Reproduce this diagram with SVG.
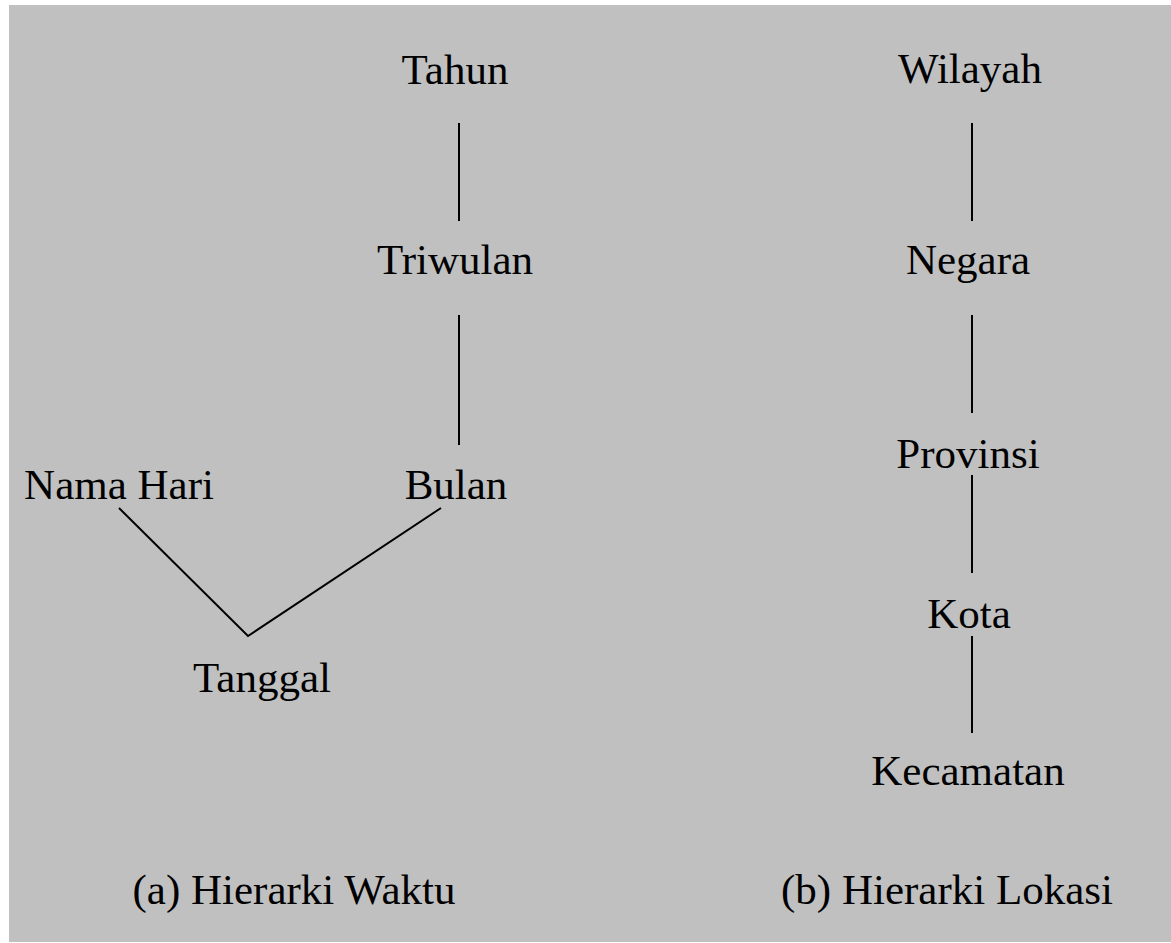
<svg xmlns="http://www.w3.org/2000/svg" width="1171" height="943" viewBox="0 0 1171 943">
<style>
text{font-family:"Liberation Serif","Times New Roman",serif;font-size:43px;fill:#000;text-anchor:middle}
.c line{stroke:#000;stroke-width:2;stroke-linecap:butt}
</style>
<rect x="0" y="0" width="1171" height="943" fill="#fff"/>
<rect x="9" y="5" width="1162" height="937" fill="#c0c0c0"/>
<g class="c" id="connectors">
<line x1="459" y1="123" x2="459" y2="221"/>
<line x1="459" y1="315" x2="459" y2="445"/>
<polyline points="119,508 248,636 441,508" fill="none" stroke="#000" stroke-width="2"/>
<line x1="972" y1="123" x2="972" y2="221"/>
<line x1="972" y1="315" x2="972" y2="413"/>
<line x1="972" y1="475" x2="972" y2="573"/>
<line x1="972" y1="636" x2="972" y2="733"/>
</g>
<g id="tahun"><text x="455" y="84">Tahun</text></g>
<g id="triwulan"><text x="455" y="274">Triwulan</text></g>
<g id="bulan"><text x="456" y="499">Bulan</text></g>
<g id="nama-hari"><text x="119" y="499">Nama Hari</text></g>
<g id="tanggal"><text x="262" y="692">Tanggal</text></g>
<g id="wilayah"><text x="970" y="83">Wilayah</text></g>
<g id="negara"><text x="968" y="274">Negara</text></g>
<g id="provinsi"><text x="968" y="468">Provinsi</text></g>
<g id="kota"><text x="969" y="628">Kota</text></g>
<g id="kecamatan"><text x="968" y="785">Kecamatan</text></g>
<g id="caption-a"><text x="294" y="904">(a) Hierarki Waktu</text></g>
<g id="caption-b"><text x="947" y="904">(b) Hierarki Lokasi</text></g>
</svg>
